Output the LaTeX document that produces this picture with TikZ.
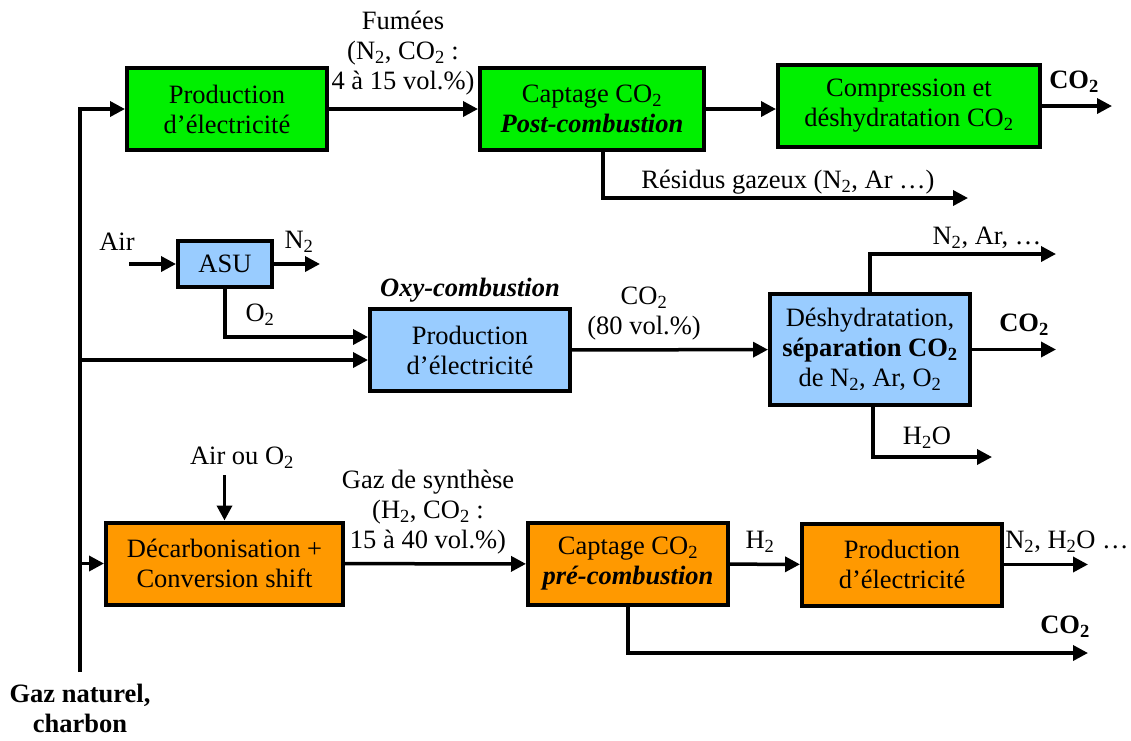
\documentclass[tikz,border=0pt]{standalone}
\usepackage{fontspec}
\setmainfont{Liberation Serif}
\usetikzlibrary{arrows.meta,calc}
\definecolor{CapGreen}{HTML}{00F000}
\definecolor{CapBlue}{HTML}{99CCFF}
\definecolor{CapOrange}{HTML}{FF9900}
\newcommand{\ind}[1]{\textsubscript{#1}}
\newcommand{\bigfont}{\fontsize{26.5}{30}\selectfont}

\begin{document}
\begin{tikzpicture}[x=1pt,y=-1pt]
\tikzset{s/.style={draw=black,line width=4pt,align=center,inner sep=0pt,minimum width=200pt,minimum height=82pt,font=\bigfont},a/.style={-{Triangle[length=15pt,width=15pt]},line width=3.5pt},t/.style={align=center,inner sep=0pt,font=\bigfont},tb/.style={t,font=\bigfont\bfseries}}
\useasboundingbox (0,0) rectangle (1131,740);
% post-combustion
\node[s,fill=CapGreen] (a) at (227,109) {Production\\d’électricité};
\node[s,fill=CapGreen,minimum width=224pt] (b) at (592,109) {Captage CO\ind{2}\\\textbf{\textit{Post-combustion}}};
\node[s,fill=CapGreen,minimum width=262pt] (c) at (909,106) {Compression et\\déshydratation CO\ind{2}};
\node[t] (fum) at (403,53) {Fumées\\(N\ind{2}, CO\ind{2} :\\4 à 15 vol.\%)};
\node[t] (res) at (788,182) {Résidus gazeux (N\ind{2}, Ar …)};
\node[tb] (co2c) at (1074,82) {CO\ind{2}};
% oxy-combustion
\node[s,fill=CapBlue,minimum width=94pt,minimum height=46pt] (u) at (225,264) {ASU};
\node[s,fill=CapBlue] (d) at (470,350) {Production\\d’électricité};
\node[s,fill=CapBlue,minimum height=111pt] (e) at (870,349.5) {Déshydratation,\\\textbf{séparation CO\ind{2}}\\de N\ind{2}, Ar, O\ind{2}};
\node[tb] (oxy) at (470,290) {\textit{Oxy-combustion}};
\node[t] (air) at (117,242) {Air};
\node[t] (n2) at (299,242) {N\ind{2}};
\node[t] (o2) at (260,315) {O\ind{2}};
\node[t] (co2d) at (644,314) {CO\ind{2}\\(80 vol.\%)};
\node[t] (n2ar) at (987,238) {N\ind{2}, Ar, …};
\node[tb] (co2e) at (1024,325) {CO\ind{2}};
\node[t] (h2o) at (927,438) {H\ind{2}O};
% pre-combustion
\node[s,fill=CapOrange,minimum width=237pt] (f) at (224.5,563.5) {Décarbonisation +\\Conversion shift};
\node[s,fill=CapOrange] (g) at (628,564) {Captage CO\ind{2}\\\textbf{\textit{pré-combustion}}};
\node[s,fill=CapOrange] (h) at (902,564.5) {Production\\d’électricité};
\node[t] (airo2) at (242,458) {Air ou O\ind{2}};
\node[t] (syn) at (428,512) {Gaz de synthèse\\(H\ind{2}, CO\ind{2} :\\15 à 40 vol.\%)};
\node[t] (h2) at (760,542) {H\ind{2}};
\node[t] (n2h2o) at (1067,542) {N\ind{2}, H\ind{2}O …};
\node[tb] (co2g) at (1065,627) {CO\ind{2}};
\node[tb] (fuel) at (80,708) {Gaz naturel,\\charbon};
% free ends
\coordinate (bot) at (80,672);
\coordinate (j1) at (80,360);
\coordinate (ain) at (129,264);
\coordinate (uout) at (320,264);
\coordinate (cout) at (1112,106);
\coordinate (rout) at (968,198);
\coordinate (nout) at (1056,254);
\coordinate (sout) at (1056,349.5);
\coordinate (wout) at (992,457);
\coordinate (hout) at (1088,564.5);
\coordinate (pout) at (1088,653);
% flows
\draw[a] (bot) |- (a);
\draw[a] (j1) -- (j1 -| d.west);
\draw[a] (bot |- f) -- (f);
\draw[a] (a) -- (b);
\draw[a] (b.east) -- (b.east -| c.west);
\draw[a] (c) -- (cout);
\draw[a] ([xshift=11pt]b.south) |- (rout);
\draw[a] (ain) -- (u);
\draw[a] (u) -- (uout);
\draw[a] (u.south) |- ($(d.west)+(0,-13)$);
\draw[a] (d) -- (e);
\draw[a] (e.north) |- (nout);
\draw[a] (e) -- (sout);
\draw[a] ([xshift=3pt]e.south) |- (wout);
\draw[a] (f.north |- 0,475) -- (f.north);
\draw[a] (f) -- (g);
\draw[a] (g) -- (h);
\draw[a] (h) -- (hout);
\draw[a] (g.south) |- (pout);
\end{tikzpicture}
\end{document}
